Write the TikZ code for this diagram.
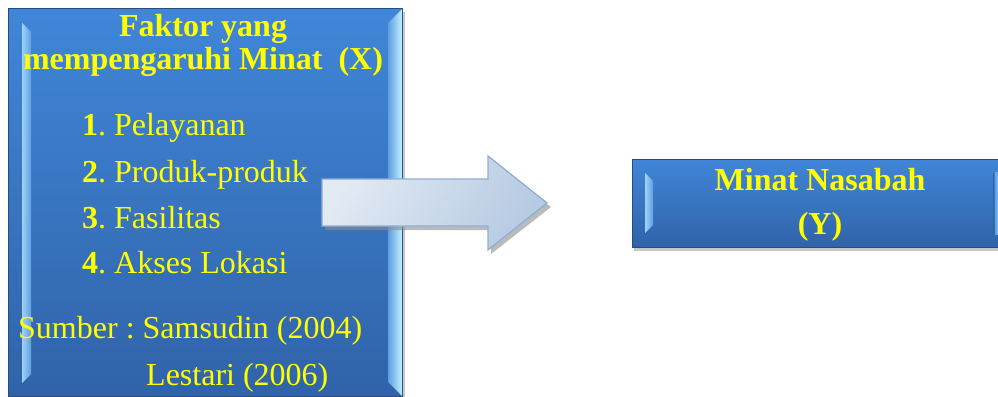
\documentclass[tikz,border=0pt]{standalone}
\usepackage{fontspec}
\setmainfont{Liberation Serif}
\definecolor{boxtop}{HTML}{4086D8}
\definecolor{boxbot}{HTML}{3063A9}
\definecolor{boxedge}{HTML}{284C7C}
\definecolor{bevlight}{HTML}{9ED2FA}
\definecolor{bevmid}{HTML}{5E9EE2}
\definecolor{bevcyan}{HTML}{C0F0FF}
\definecolor{arrlight}{HTML}{E2EAF4}
\definecolor{arrdark}{HTML}{B6CAE2}
\definecolor{arredge}{HTML}{8DAED6}
\definecolor{txtyellow}{HTML}{FFFF00}
\begin{document}
\frenchspacing
\begin{tikzpicture}[x=1pt,y=-1pt,
  txt/.style={text=txtyellow, font=\fontsize{32}{36}\selectfont\frenchspacing, inner sep=0pt},
  btxt/.style={txt, font=\fontsize{32}{36}\selectfont\bfseries\frenchspacing},
  shadowfill/.style={fill=black, opacity=0.22},
  boxface/.style={top color=boxtop, bottom color=boxbot, draw=boxedge, line width=1pt}]
\useasboundingbox (0,0) rectangle (998,396);
\clip (0,0) rectangle (998,396);

% ---------- left box ----------
\fill[shadowfill] (10,12) rectangle (405,400);
\shade[boxface] (8,9) rectangle (402,396);
\shade[left color=bevlight, right color=bevmid] (22,23) -- (31,32) -- (31,374) -- (22,383) -- cycle;
\shade[left color=bevmid, right color=bevcyan] (402,9) -- (388,23) -- (388,382) -- (402,396) -- cycle;
\draw[boxedge, line width=0.8pt] (402,9) rectangle (402,396);
\node (leftbox) at (205,203) {};

% ---------- right box ----------
\fill[shadowfill] (634,162) rectangle (1010,251);
\shade[boxface] (632,159) rectangle (1010,247);
\shade[left color=bevlight, right color=bevmid] (645,173) -- (653,181) -- (653,225) -- (645,233) -- cycle;
\draw[boxedge!60!boxtop, line width=1pt] (993,173) -- (993,233);
\shade[left color=bevmid, right color=bevlight] (995,172) rectangle (1000,234);
\node (rightbox) at (820,203) {};

% ---------- block arrow ----------
\fill[black!45, opacity=0.6] (325,183) -- (491,183) -- (491,160) -- (551,207) -- (491,254) -- (491,230) -- (325,230) -- cycle;
\shade[left color=arrlight, right color=arrdark, shading angle=60, draw=arredge, line width=1.3pt]
  (322,179) -- (488,179) -- (488,156) -- (547,203) -- (488,250) -- (488,226) -- (322,226) -- cycle;
\coordinate (arrtip) at (547,203);

% ---------- texts ----------
\node[btxt, anchor=base] (t1) at (203,37) {Faktor yang};
\node[btxt, anchor=base] (t2) at (203,70) {mempengaruhi Minat\hspace{0.25em} (X)};
\node[txt, anchor=base west] (i1) at (82,135) {\textbf{1}. Pelayanan};
\node[txt, anchor=base west] (i2) at (82,182) {\textbf{2}. Produk-produk};
\node[txt, anchor=base west] (i3) at (82,228) {\textbf{3}. Fasilitas};
\node[txt, anchor=base west] (i4) at (82,273) {\textbf{4}. Akses Lokasi};
\node[txt, anchor=base west] (s1) at (18,338) {Sumber : Samsudin (2004)};
\node[txt, anchor=base west] (s2) at (146,385) {Lestari (2006)};

\node[btxt, anchor=base] (y1) at (820,190) {Minat Nasabah};
\node[btxt, anchor=base] (y2) at (820,234) {(Y)};
\end{tikzpicture}
\end{document}
